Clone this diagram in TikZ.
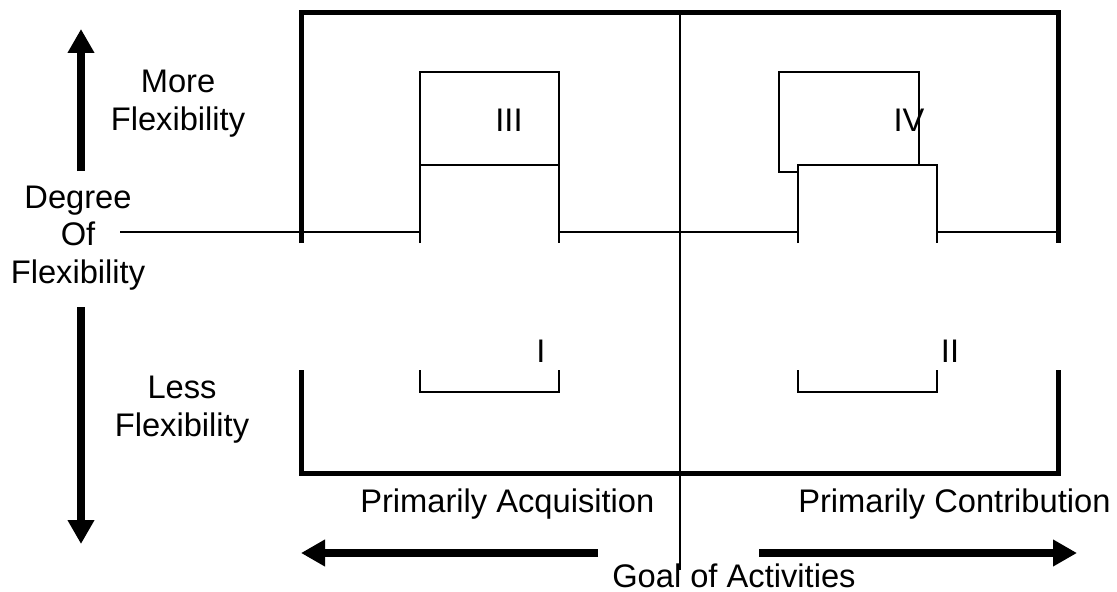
\documentclass[tikz,border=0pt]{standalone}
\usepackage{fontspec}
\setmainfont{Liberation Sans}
\usetikzlibrary{arrows.meta}

\tikzset{
  lbl/.style={inner sep=0pt, align=center, font=\fontsize{24.5pt}{28pt}\selectfont},
  frame/.style={line width=3.75pt},
  thinline/.style={line width=1.1pt},
  bigarrow/.style={line width=6pt, -{Triangle[width=19pt, length=18pt]}},
}

\begin{document}
\begin{tikzpicture}[x=0.75pt, y=-0.75pt]
\useasboundingbox (0,0) rectangle (1117,592);
% outer frame, open at the degree line
\draw[frame] (301,243) -- (301,13) -- (1058,13) -- (1058,243);
\draw[frame] (301,370) -- (301,473) -- (1058,473) -- (1058,370);
% goal axis and degree line
\draw[thinline] (680,13) -- (680,570);
\draw[thinline] (120,232) -- (420,232) (559,232) -- (798,232) (937,232) -- (1058,232);
% quadrant III and I
\draw[thinline] (420,243) -- (420,72) -- (559,72) -- (559,243);
\draw[thinline] (420,165) -- (559,165);
\draw[thinline] (420,370) -- (420,392) -- (559,392) -- (559,370);
% quadrant IV and II
\draw[thinline] (798,172) -- (779,172) -- (779,72) -- (919,72) -- (919,165);
\draw[thinline] (798,243) -- (798,165) -- (937,165) -- (937,243);
\draw[thinline] (798,370) -- (798,392) -- (937,392) -- (937,370);
\node (q3) [lbl, anchor=base] at (509,131) {III};
\node (q1) [lbl, anchor=base] at (541,362) {I};
\node (q4) [lbl, anchor=base] at (909,131) {IV};
\node (q2) [lbl, anchor=base] at (950,362) {II};
% degree of flexibility
\node (more) [lbl, anchor=base] at (178,130) {More\\Flexibility};
\node (degree) [lbl, anchor=base] at (78,283) {Degree\\Of\\Flexibility};
\node (less) [lbl, anchor=base] at (182,436) {Less\\Flexibility};
\draw[bigarrow] (81,171) -- (81,29);
\draw[bigarrow] (81,307) -- (81,544);
% goal of activities
\node (acq) [lbl, anchor=base west] at (360,512) {Primarily Acquisition};
\node (con) [lbl, anchor=base west] at (798,512) {Primarily Contribution};
\node (goal) [lbl, anchor=base west] at (612,587) {Goal of Activities};
\draw[bigarrow] (598,553) -- (301,553);
\draw[bigarrow] (759,553) -- (1077,553);
\end{tikzpicture}
\end{document}
